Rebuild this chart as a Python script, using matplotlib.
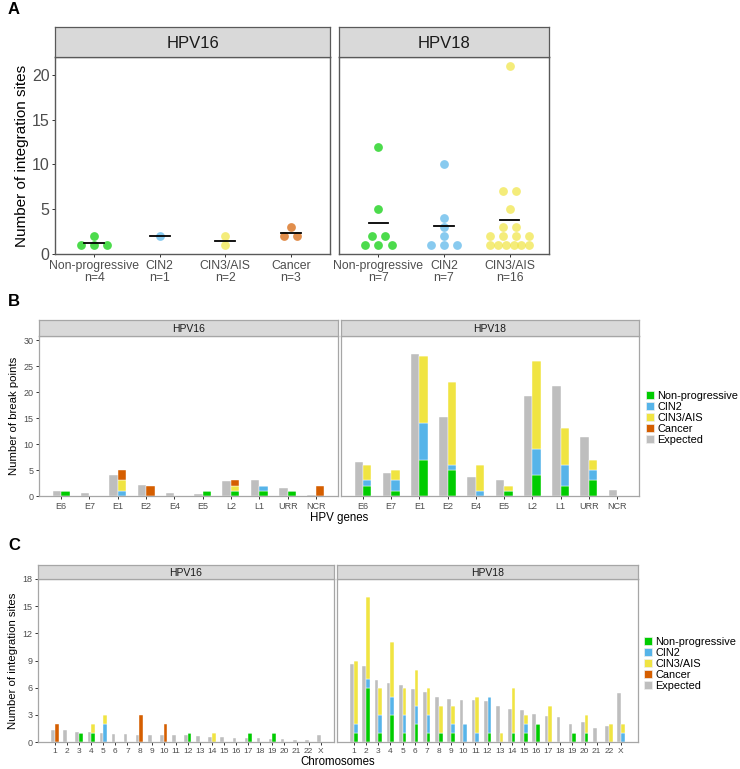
#!/usr/bin/env python3

"""
Integration sites and break points of HPV16 / HPV18 by lesion grade.
Three panels: A (sites per sample), B (break points per HPV gene),
C (integration sites per chromosome vs expected).
"""

import numpy as np
import matplotlib
matplotlib.use("Agg")
import matplotlib.pyplot as plt
from matplotlib.patches import Patch

plt.rcParams["font.family"] = ["Liberation Sans", "DejaVu Sans"]

W, H = 740, 769

# ---- colours
grades = ["Non-progressive", "CIN2", "CIN3/AIS", "Cancer"]
grade_colors = ["#00CC00", "#56B4E9", "#F0E442", "#D55E00"]
expected_color = "#BEBEBE"

# ---- panel A: integration sites per sample
a16_labels = ["Non-progressive\nn=4", "CIN2\nn=1", "CIN3/AIS\nn=2", "Cancer\nn=3"]
a16_nonprog = [2, 1, 1, 1]
a16_cin2 = [2]
a16_cin3 = [1, 2]
a16_cancer = [3, 2, 2]

a18_labels = ["Non-progressive\nn=7", "CIN2\nn=7", "CIN3/AIS\nn=16"]
a18_nonprog = [12, 5, 2, 2, 1, 1, 1]
a18_cin2 = [10, 4, 3, 2, 1, 1, 1]
a18_cin3 = [21, 7, 7, 5, 3, 3, 2, 2, 2, 2, 1, 1, 1, 1, 1, 1]

# ---- panel B: break points per HPV gene
genes = ["E6", "E7", "E1", "E2", "E4", "E5", "L2", "L1", "URR", "NCR"]
b16_expected = [1.0, 0.6, 4.0, 2.2, 0.6, 0.4, 2.8, 3.0, 1.6, 0.2]
b16_nonprog = [1, 0, 0, 0, 0, 1, 1, 1, 1, 0]
b16_cin2 = [0, 0, 1, 0, 0, 0, 0, 1, 0, 0]
b16_cin3 = [0, 0, 2, 0, 0, 0, 1, 0, 0, 0]
b16_cancer = [0, 0, 2, 2, 0, 0, 1, 0, 0, 2]

b18_expected = [6.6, 4.4, 27.4, 15.3, 3.7, 3.1, 19.3, 21.2, 11.4, 1.2]
b18_nonprog = [2, 1, 7, 5, 0, 1, 4, 2, 3, 0]
b18_cin2 = [1, 2, 7, 1, 1, 0, 5, 4, 2, 0]
b18_cin3 = [3, 2, 13, 16, 5, 1, 17, 7, 2, 0]
b18_cancer = [0, 0, 0, 0, 0, 0, 0, 0, 0, 0]

# ---- panel C: integration sites per chromosome
chromosomes = [str(i) for i in range(1, 23)] + ["X"]
c16_expected = [1.33, 1.3, 1.1, 1.05, 1.0, 0.93, 0.85, 0.78, 0.75, 0.72, 0.72, 0.72,
                0.62, 0.58, 0.55, 0.48, 0.45, 0.4, 0.3, 0.35, 0.25, 0.25, 0.8]
c16_nonprog = [0, 0, 1, 1, 0, 0, 0, 0, 0, 0, 0, 1, 0, 0, 0, 0, 1, 0, 1, 0, 0, 0, 0]
c16_cin2 = [0, 0, 0, 0, 2, 0, 0, 0, 0, 0, 0, 0, 0, 0, 0, 0, 0, 0, 0, 0, 0, 0, 0]
c16_cin3 = [0, 0, 0, 1, 1, 0, 0, 0, 0, 0, 0, 0, 0, 1, 0, 0, 0, 0, 0, 0, 0, 0, 0]
c16_cancer = [2, 0, 0, 0, 0, 0, 0, 3, 0, 2, 0, 0, 0, 0, 0, 0, 0, 0, 0, 0, 0, 0, 0]

c18_expected = [8.64, 8.38, 6.84, 6.54, 6.29, 5.88, 5.5, 4.96, 4.78, 4.6, 4.67, 4.56,
                3.93, 3.68, 3.53, 3.09, 2.83, 2.76, 1.99, 2.2, 1.58, 1.73, 5.37]
c18_nonprog = [1, 6, 1, 3, 1, 2, 1, 1, 1, 0, 0, 1, 0, 1, 1, 2, 0, 0, 1, 1, 0, 0, 0]
c18_cin2 = [1, 1, 2, 2, 2, 2, 2, 0, 1, 2, 1, 4, 0, 0, 1, 0, 0, 0, 0, 0, 0, 0, 1]
c18_cin3 = [7, 9, 3, 6, 3, 4, 3, 3, 2, 0, 4, 0, 1, 5, 1, 0, 4, 0, 0, 2, 0, 2, 1]
c18_cancer = [0] * 23


def rect(x0, y0, x1, y1):
    return [x0 / W, 1 - y1 / H, (x1 - x0) / W, (y1 - y0) / H]


def add_strip(fig, x0, y0, x1, y1, text, size, edge):
    s = fig.add_axes(rect(x0, y0, x1, y1))
    s.set_facecolor("#D9D9D9")
    s.set_xticks([])
    s.set_yticks([])
    for sp in s.spines.values():
        sp.set_color(edge)
        sp.set_linewidth(0.9)
    s.text(0.5, 0.45, text, ha="center", va="center", fontsize=size,
           color="#1A1A1A", transform=s.transAxes)


def style_axes(ax, edge, lw, tick_size):
    for sp in ax.spines.values():
        sp.set_color(edge)
        sp.set_linewidth(lw)
    ax.tick_params(colors="#333333", labelcolor="#4D4D4D", labelsize=tick_size,
                   length=2.5, width=0.7, pad=1.5)


def spread(values):
    # place equal values side by side around the category centre
    values = np.asarray(values, dtype=float)
    offsets = np.zeros(len(values))
    for v in np.unique(values):
        idx = np.where(values == v)[0]
        m = len(idx)
        if m > 1:
            half = min(0.1 * (m - 1), 0.3)
            offsets[idx] = np.linspace(-half, half, m)
    return offsets


def panel_a(fig):
    setups = [
        ((55, 57, 330, 254), "HPV16", a16_labels,
         [a16_nonprog, a16_cin2, a16_cin3, a16_cancer]),
        ((339, 57, 549, 254), "HPV18", a18_labels,
         [a18_nonprog, a18_cin2, a18_cin3]),
    ]
    for (x0, y0, x1, y1), name, labels, series in setups:
        ax = fig.add_axes(rect(x0, y0, x1, y1))
        for i, vals in enumerate(series):
            xs = i + spread(vals)
            ax.scatter(xs, vals, s=40, color=grade_colors[i], alpha=0.7,
                       linewidths=0, zorder=3)
            ax.plot([i - 0.15, i + 0.15], [np.mean(vals)] * 2, color="black",
                    lw=1.3, zorder=4)
        ax.set_xlim(-0.6, len(series) - 0.4)
        ax.set_ylim(0, 22)
        ax.set_xticks(range(len(series)))
        ax.set_xticklabels(labels, fontsize=8.8, linespacing=1.0)
        ax.set_yticks([0, 5, 10, 15, 20])
        style_axes(ax, "#595959", 1.0, 11.5)
        ax.tick_params(axis="x", labelsize=8.8)
        if name == "HPV16":
            ax.set_ylabel("Number of integration sites", fontsize=11, labelpad=2)
        else:
            ax.set_yticklabels([])
            ax.tick_params(axis="y", length=0)
        add_strip(fig, x0, 27, x1, y0, name, 12, "#595959")


def stacked_panel(fig, boxes, strip_top, names, cats, expected, observed,
                  ylim, yticks, xlim, ylabel, xlabel, tick_size, xlabel_gap):
    for k, (x0, y0, x1, y1) in enumerate(boxes):
        ax = fig.add_axes(rect(x0, y0, x1, y1))
        x = np.arange(len(cats))
        ax.bar(x - 0.15, expected[k], width=0.3, color=expected_color,
               edgecolor="white", linewidth=0.3)
        bottom = np.zeros(len(cats))
        for g, vals in enumerate(observed[k]):
            vals = np.asarray(vals, dtype=float)
            ax.bar(x + 0.15, vals, width=0.3, bottom=bottom,
                   color=grade_colors[g], edgecolor="white", linewidth=0.3)
            bottom += vals
        ax.set_xlim(*xlim[k])
        ax.set_ylim(*ylim)
        ax.set_xticks(x)
        ax.set_xticklabels(cats)
        ax.set_yticks(yticks)
        style_axes(ax, "#A6A6A6", 0.9, tick_size)
        ax.tick_params(axis="y", labelsize=6.5)
        if k == 0:
            ax.set_ylabel(ylabel, fontsize=8.2, labelpad=3)
        else:
            ax.set_yticklabels([])
            ax.tick_params(axis="y", length=0)
        add_strip(fig, x0, strip_top, x1, y0, names[k], 7.5, "#A6A6A6")

    mid = (boxes[0][0] + boxes[-1][2]) / 2
    fig.text(mid / W, 1 - (boxes[0][3] + xlabel_gap) / H, xlabel, ha="center",
             va="center", fontsize=8.3)


def add_legend(fig, x, y):
    handles = [Patch(facecolor=c, edgecolor="#EEEEEE", linewidth=0.5)
               for c in grade_colors + [expected_color]]
    fig.legend(handles, grades + ["Expected"], loc="upper left",
               bbox_to_anchor=(x / W, 1 - y / H), frameon=False, fontsize=7.9,
               handlelength=0.75, handleheight=0.75, labelspacing=0.08,
               handletextpad=0.3, borderpad=0, borderaxespad=0)


def main():
    fig = plt.figure(figsize=(W / 100, H / 100), dpi=100)

    panel_a(fig)

    stacked_panel(
        fig, [(39, 336, 338, 496), (341, 336, 639, 496)], 320,
        ["HPV16", "HPV18"], genes, [b16_expected, b18_expected],
        [[b16_nonprog, b16_cin2, b16_cin3, b16_cancer],
         [b18_nonprog, b18_cin2, b18_cin3, b18_cancer]],
        (0, 30.8), [0, 5, 10, 15, 20, 25, 30],
        [(-0.78, 9.78), (-0.78, 9.78)],
        "Number of break points", "HPV genes", 6.5, 22)
    add_legend(fig, 646, 391)

    stacked_panel(
        fig, [(38, 579, 334, 742), (337, 579, 638, 742)], 565,
        ["HPV16", "HPV18"], chromosomes, [c16_expected, c18_expected],
        [[c16_nonprog, c16_cin2, c16_cin3, c16_cancer],
         [c18_nonprog, c18_cin2, c18_cin3, c18_cancer]],
        (0, 18), [0, 3, 6, 9, 12, 15, 18],
        [(-1.4, 23.1), (-1.4, 23.4)],
        "Number of integration sites", "Chromosomes", 6.0, 20)
    add_legend(fig, 644, 637)

    for label, yy in [("A", 10), ("B", 302), ("C", 545)]:
        fig.text(8 / W, 1 - yy / H, label, fontsize=12, fontweight="bold",
                 ha="left", va="center")

    fig.savefig("out.png", dpi=100, facecolor="white")


if __name__ == "__main__":
    main()
